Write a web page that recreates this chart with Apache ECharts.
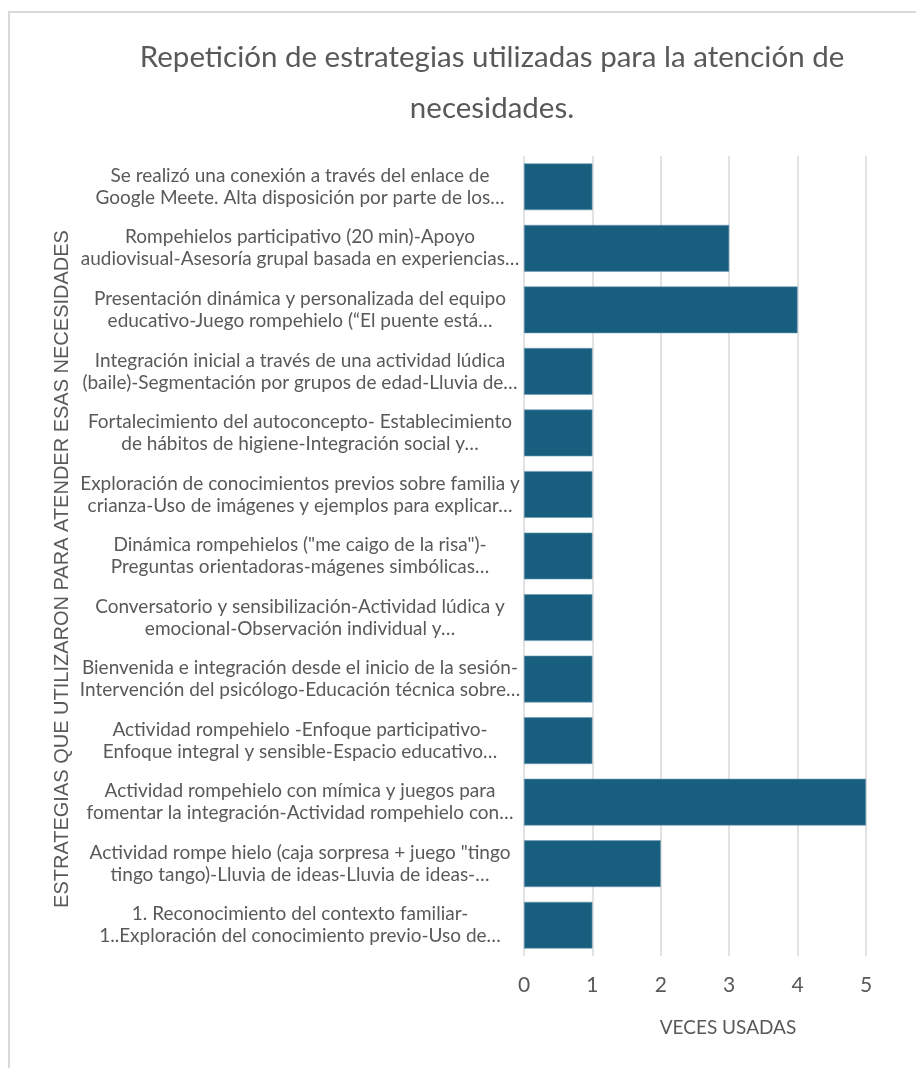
<!DOCTYPE html>
<html>
<head>
<meta charset="utf-8">
<script src="https://cdn.jsdelivr.net/npm/echarts@6/dist/echarts.min.js"></script>
<style>
  html, body { margin: 0; padding: 0; background: #fff; }
  #chart { width: 916px; height: 1068px; }
</style>
</head>
<body>
<div id="chart"></div>
<script>
// estrategias, de arriba hacia abajo
const estrategias = [
  'Se realizó una conexión a través del enlace de\nGoogle Meete. Alta disposición por parte de los…',
  'Rompehielos participativo (20 min)-Apoyo\naudiovisual-Asesoría grupal basada en experiencias…',
  'Presentación dinámica y personalizada del equipo\neducativo-Juego rompehielo (“El puente está…',
  'Integración inicial a través de una actividad lúdica\n(baile)-Segmentación por grupos de edad-Lluvia de…',
  'Fortalecimiento del autoconcepto- Establecimiento\nde hábitos de higiene-Integración social y…',
  'Exploración de conocimientos previos sobre familia y\ncrianza-Uso de imágenes y ejemplos para explicar…',
  'Dinámica rompehielos ("me caigo de la risa")-\nPreguntas orientadoras-mágenes simbólicas…',
  'Conversatorio y sensibilización-Actividad lúdica y\nemocional-Observación individual y…',
  'Bienvenida e integración desde el inicio de la sesión-\nIntervención del psicólogo-Educación técnica sobre…',
  'Actividad rompehielo -Enfoque participativo-\nEnfoque integral y sensible-Espacio educativo…',
  'Actividad rompehielo con mímica y juegos para\nfomentar la integración-Actividad rompehielo con…',
  'Actividad rompe hielo (caja sorpresa + juego "tingo\ntingo tango)-Lluvia de ideas-Lluvia de ideas-…',
  '1. Reconocimiento del contexto familiar-\n1..Exploración del conocimiento previo-Uso de…'
];
const vecesUsadas = [1, 3, 4, 1, 1, 1, 1, 1, 1, 1, 5, 2, 1];

const titulo = 'Repetición de estrategias utilizadas para la atención de\nnecesidades.';
const nombreEjeX = 'VECES USADAS';
const nombreEjeY = 'ESTRATEGIAS QUE UTILIZARON PARA ATENDER ESAS NECESIDADES';

const gris = '#595959';
const fuente = 'Lato, "Liberation Sans", sans-serif';

const chart = echarts.init(document.getElementById('chart'));
chart.setOption({
  backgroundColor: '#fff',
  animation: false,
  title: {
    text: titulo,
    left: 492,
    top: 32,
    padding: 0,
    textAlign: 'center',
    textStyle: {
      fontFamily: fuente,
      fontSize: 29.5,
      fontWeight: 'normal',
      color: gris,
      lineHeight: 51
    }
  },
  // marco del gráfico
  graphic: [{
    type: 'rect',
    silent: true,
    shape: { x: 9, y: 12, width: 1000, height: 1100 },
    style: { fill: 'none', stroke: '#d9d9d9', lineWidth: 2 }
  }],
  grid: {
    left: 524,
    right: 50,
    top: 156,
    bottom: 112
  },
  xAxis: {
    type: 'value',
    min: 0,
    max: 5,
    interval: 1,
    name: nombreEjeX,
    nameLocation: 'middle',
    nameGap: 62,
    nameTextStyle: {
      fontFamily: fuente,
      fontSize: 19,
      color: gris,
      padding: [0, 0, 0, 66]
    },
    axisLine: { show: false },
    axisTick: { show: false },
    axisLabel: {
      margin: 19,
      fontFamily: fuente,
      fontSize: 21,
      color: gris
    },
    splitLine: {
      show: true,
      lineStyle: { color: '#d9d9d9', width: 1.5 }
    }
  },
  yAxis: {
    type: 'category',
    data: estrategias,
    inverse: true,
    name: nombreEjeY,
    nameLocation: 'middle',
    nameGap: 452,
    nameMoveOverlap: false,
    nameRotate: 90,
    nameTextStyle: {
      fontFamily: '"Liberation Sans", sans-serif',
      fontSize: 20,
      color: gris,
      padding: [0, 26, 0, 0]
    },
    axisLine: { show: false },
    axisTick: { show: false },
    axisLabel: {
      margin: 224,
      align: 'center',
      fontFamily: fuente,
      fontSize: 19,
      lineHeight: 22,
      color: gris,
      interval: 0
    }
  },
  series: [{
    type: 'bar',
    data: vecesUsadas,
    barCategoryGap: '24%',
    itemStyle: {
      color: '#185e7f',
      borderColor: '#6f9bb3',
      borderWidth: 0.6
    }
  }]
});
</script>
</body>
</html>
